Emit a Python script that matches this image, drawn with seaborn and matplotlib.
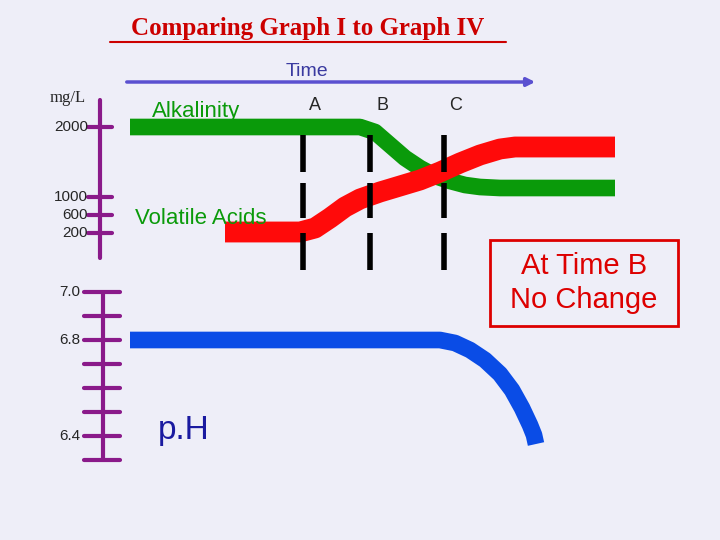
import numpy as np
import pandas as pd
import matplotlib.pyplot as plt
import seaborn as sns
from matplotlib.patches import Rectangle

sns.set_style("white")

# curve points (x = time position, y = screen level)
alk_x = [130, 360, 375, 390, 405, 420, 435, 450, 465, 480, 500, 615]
alk_y = [127, 127, 132, 145, 158, 168, 176, 181, 185, 187, 188, 188]
va_x = [225, 300, 315, 330, 345, 360, 380, 400, 420, 440, 460, 480, 500, 515, 615]
va_y = [232, 232, 228, 218, 207, 199, 192, 186, 180, 172, 163, 155, 149, 147, 147]
ph_x = [130, 440, 455, 470, 485, 500, 512, 522, 530, 534, 536]
ph_y = [340, 340, 343, 350, 360, 374, 390, 408, 425, 435, 444]

upper_ticks = [127, 197, 215, 233]
upper_labels = ["2000", "1000", "600", "200"]
lower_ticks = [292, 316, 340, 364, 388, 412, 436, 460]
lower_labels = {292: "7.0", 340: "6.8", 436: "6.4"}
marker_x = [303, 370, 444]
marker_labels = ["A", "B", "C"]
dash_spans = [(135, 172), (183, 218), (233, 270)]

fig = plt.figure(figsize=(7.2, 5.4), dpi=100)
fig.patch.set_facecolor("#eeeef8")
ax = fig.add_axes([0, 0, 1, 1])
ax.set_facecolor("#eeeef8")
ax.set_xlim(0, 720)
ax.set_ylim(540, 0)
ax.axis("off")

sns.lineplot(x=alk_x, y=alk_y, ax=ax, color="#0a9a0a", lw=12, sort=False, solid_capstyle="butt")
sns.lineplot(x=va_x, y=va_y, ax=ax, color="#ff0a0a", lw=15, sort=False, solid_capstyle="butt")
sns.lineplot(x=ph_x, y=ph_y, ax=ax, color="#0a4ce6", lw=12, sort=False, solid_capstyle="butt")

for x in marker_x:
    for y0, y1 in dash_spans:
        ax.plot([x, x], [y0, y1], color="black", lw=4, solid_capstyle="butt")
for x, lab in zip(marker_x, marker_labels):
    ax.text(x + 12, 106, lab, fontsize=13, ha="center", va="center", family="Liberation Sans")

ax.annotate("", xy=(538, 82), xytext=(124, 82),
            arrowprops=dict(arrowstyle="-|>", color="#5a50d0", lw=2.5, mutation_scale=12))
ax.text(307, 72, "Time", fontsize=14, color="#3a3aa0", ha="center", va="center", family="Liberation Sans")

# title
ax.text(308, 29, "Comparing Graph I to Graph IV", fontsize=18, color="#cc0000",
        ha="center", va="center", family="Liberation Serif", fontweight="bold")
ax.plot([110, 506], [42, 42], color="#cc0000", lw=1.5)

purple = "#8a1a8a"
ax.plot([100, 100], [100, 258], color=purple, lw=3)
for y, lab in zip(upper_ticks, upper_labels):
    ax.plot([88, 112], [y, y], color=purple, lw=3)
    ax.text(88, y, lab, fontsize=11, ha="right", va="center", family="Liberation Sans")
ax.text(68, 98, "mg/L", fontsize=12, ha="center", va="center", family="Liberation Serif")

ax.plot([103, 103], [292, 460], color=purple, lw=3)
for y in lower_ticks:
    ax.plot([84, 120], [y, y], color=purple, lw=3)
    if y in lower_labels:
        ax.text(80, y, lower_labels[y], fontsize=11, ha="right", va="center", family="Liberation Sans")

ax.text(152, 111, "Alkalinity", fontsize=16, color="#0a9a0a", va="center", family="Liberation Sans")
ax.text(135, 219, "Volatile Acids", fontsize=16, color="#0a9a0a", va="center", family="Liberation Sans")
ax.text(158, 430, "p.H", fontsize=24, color="#1a1aa0", va="center", family="Liberation Sans")

ax.add_patch(Rectangle((490, 240), 188, 86, fill=False, edgecolor="#dd0000", lw=2))
ax.text(584, 283, "At Time B\nNo Change", fontsize=21, color="#dd0000", ha="center",
        va="center", linespacing=1.25, family="Liberation Sans")

fig.savefig("out.png", dpi=100, facecolor=fig.get_facecolor())
